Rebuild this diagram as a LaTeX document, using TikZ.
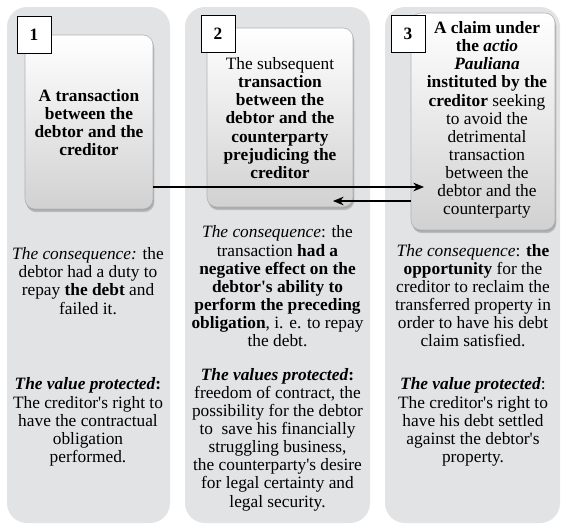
\documentclass[tikz,border=0pt]{standalone}
\usepackage{fontspec}
\setmainfont{Liberation Serif}[Ligatures=TeXOff]
\usetikzlibrary{arrows.meta,shadows}
\definecolor{colbg}{RGB}{226,227,229}
\begin{document}
\begin{tikzpicture}[x=0.75pt,y=-0.75pt,
  column/.style={fill=colbg, rounded corners=15pt, inner sep=0pt, minimum height=387pt},
  card/.style={draw=black!30, line width=0.4pt, rounded corners=7.5pt, inner sep=0pt,
    top color=white, middle color=white, bottom color=black!18,
    double copy shadow={shadow xshift=0.5pt, shadow yshift=-1.2pt, fill=black!45, draw=none, opacity=0.45}},
  numbox/.style={draw=black, line width=0.6pt, fill=white, minimum width=25.5pt,
    minimum height=27.75pt, inner sep=0pt, font=\fontsize{13pt}{13.6pt}\selectfont\bfseries},
  txt/.style={align=center, inner sep=0pt, font=\fontsize{13pt}{13.6pt}\selectfont},
  arr/.style={line width=0.8pt, -{Stealth[length=8pt,width=6.5pt,inset=2.5pt]}}
]
\useasboundingbox[fill=white] (0,0) rectangle (565,526);

% columns
\node[column, minimum width=122.25pt] (col1) at (88.5,265) {};
\node[column, minimum width=138.75pt] (col2) at (277.5,265) {};
\node[column, minimum width=131.25pt] (col3) at (472.5,265) {};

% cards
\node[card, minimum width=96pt, minimum height=130.5pt] (b1) at (89,122) {};
\node[card, minimum width=109.5pt, minimum height=134.25pt] (b2) at (280,117.5) {};
\node[card, minimum width=108pt, minimum height=162.75pt] (b3) at (483,121.5) {};

% number boxes
\node[numbox] (n1) at (34,34.5) {1};
\node[numbox] (n2) at (218,34) {2};
\node[numbox] (n3) at (408,33.5) {3};

% card texts
\node[txt] (t1) at (89,122.5) {\textbf{A transaction}\\\textbf{between the}\\\textbf{debtor and the}\\\textbf{creditor}};
\node[txt] (t2) at (280,118) {The subsequent\\\textbf{transaction}\\\textbf{between the}\\\textbf{debtor and the}\\\textbf{counterparty}\\\textbf{prejudicing the}\\\textbf{creditor}};
\node[txt] (t3) at (487,120) {\textbf{A claim under}\\\textbf{the \textit{actio}}\\\textbf{\textit{Pauliana}}\\\textbf{instituted by the}\\\textbf{creditor} seeking\\to avoid the\\detrimental\\transaction\\between the\\debtor and the\\counterparty};

% arrows
\coordinate (tip1) at (424,187);
\coordinate (tip2) at (333,201);
\draw[arr] (b1.east |- tip1) -- (tip1);
\draw[arr] (b3.west |- tip2) -- (tip2);

% consequences
\node[txt] (c1) at (88,281) {\textit{The consequence:} the\\debtor had a duty to\\repay \textbf{the debt} and\\failed it.};
\node[txt] (c2) at (277.5,286.5) {\textit{The consequence}: the\\transaction \textbf{had a}\\\textbf{negative effect on the}\\\textbf{debtor's ability to}\\\textbf{perform the preceding}\\\textbf{obligation}, i. e. to repay\\the debt.};
\node[txt] (c3) at (473,295.5) {\textit{The consequence}: \textbf{the}\\\textbf{opportunity} for the\\creditor to reclaim the\\transferred property in\\order to have his debt\\claim satisfied.};

% values
\node[txt] (v1) at (88,422) {\textbf{\textit{The value protected}:}\\The creditor's right to\\have the contractual\\obligation\\performed.};
\node[txt] (v2) at (277.5,439.5) {\textbf{\textit{The values protected}:}\\freedom of contract, the\\possibility for the debtor\\to\ \ save his financially\\struggling business,\\the counterparty's desire\\for legal certainty and\\legal security.};
\node[txt] (v3) at (473,422) {\textbf{\textit{The value protected}}:\\The creditor's right to\\have his debt settled\\against the debtor's\\property.};
\end{tikzpicture}
\end{document}
